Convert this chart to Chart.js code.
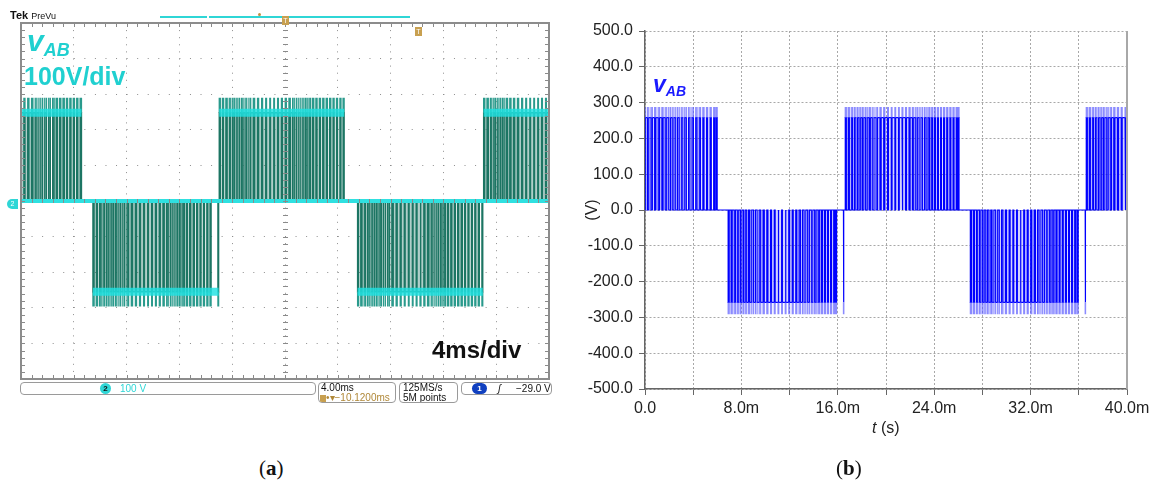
<!DOCTYPE html>
<html>
<head>
<meta charset="utf-8">
<script src="https://cdn.jsdelivr.net/npm/chart.js@4.4.1/dist/chart.umd.min.js"></script>
<style>
  body { margin: 0; background: #fff; width: 1156px; height: 486px; position: relative; overflow: hidden; font-family: 'Liberation Sans', Arial, sans-serif; }
  .abs { position: absolute; white-space: nowrap; }
  .sbox { position: absolute; border: 1px solid #9a9a9a; border-radius: 4px; background: #fff; font-size: 10px; line-height: 10px; color: #111; white-space: nowrap; overflow: hidden; }
</style>
</head>
<body>
<canvas id="scope" width="570" height="410" class="abs" style="left:0;top:0"></canvas>
<canvas id="sim" width="596" height="450" class="abs" style="left:560px;top:0"></canvas>

<!-- scope header -->
<div class="abs" style="left:10px;top:9px;font-size:11px;color:#111"><b>Tek</b> <span style="font-size:9px">PreVu</span></div>
<div class="abs" style="left:160px;top:16px;width:47px;height:2px;background:#2fd6d6"></div>
<div class="abs" style="left:209px;top:16px;width:201px;height:2px;background:#2fd6d6"></div>
<div class="abs" style="left:258px;top:13px;width:3px;height:3px;background:#c09040;border-radius:2px"></div>
<div class="abs" style="left:282px;top:16px;width:7px;height:9px;background:#c8a050;color:#fff;font-size:7px;line-height:9px;text-align:center">T</div>
<div class="abs" style="left:415px;top:27px;width:7px;height:9px;background:#c8a050;color:#fff;font-size:7px;line-height:9px;text-align:center">T</div>
<div class="abs" style="left:7px;top:199px;width:11px;height:10px;background:#2fd6d6;border-radius:5px 0 0 5px;color:#fff;font-size:7px;line-height:10px;text-align:center">2</div>

<!-- scope labels -->
<div class="abs" style="left:27px;top:24px;color:#20d0d0;font-weight:bold;font-style:italic;font-size:30px">v<span style="font-size:18px;position:relative;top:5px">AB</span></div>
<div class="abs" style="left:24px;top:62px;color:#20d0d0;font-weight:bold;font-size:25px">100V/div</div>
<div class="abs" style="left:432px;top:336px;color:#111;font-weight:bold;font-size:24px">4ms/div</div>

<!-- scope status bar -->
<div class="sbox" style="left:20px;top:382px;width:294px;height:11px">
  <span class="abs" style="left:79px;top:0px;width:11px;height:11px;border-radius:6px;background:#2fd6d6;color:#111;font-size:8px;line-height:11px;text-align:center;font-weight:bold">2</span>
  <span class="abs" style="left:99px;top:1px;color:#2fd6d6">100 V</span>
</div>
<div class="sbox" style="left:318px;top:382px;width:76px;height:19px">
  <div style="padding:0 0 0 2px">4.00ms</div>
  <div style="padding:0 0 0 1px;color:#b08838"><span style="display:inline-block;width:6px;height:7px;background:#c8a050;vertical-align:-1px"></span>&#8226;&#9662;&minus;10.1200ms</div>
</div>
<div class="sbox" style="left:399px;top:382px;width:57px;height:19px">
  <div style="padding-left:3px">125MS/s</div>
  <div style="padding-left:3px">5M points</div>
</div>
<div class="sbox" style="left:461px;top:382px;width:89px;height:11px">
  <span class="abs" style="left:10px;top:0px;width:15px;height:11px;border-radius:6px;background:#1040c0;color:#fff;font-size:8px;line-height:11px;text-align:center;font-weight:bold">1</span>
  <span class="abs" style="left:36px;top:1px;font-style:italic">&#x0283;</span>
  <span class="abs" style="left:54px;top:1px">&minus;29.0 V</span>
</div>

<!-- sim labels -->
<div class="abs" style="left:653px;top:71px;color:#1a1aff;font-weight:bold;font-style:italic;font-size:23px">v<span style="font-size:14px;position:relative;top:4px">AB</span></div>
<div class="abs" style="left:872px;top:419px;color:#222;font-size:16px"><i>t</i> (s)</div>

<!-- captions -->
<div class="abs" style="left:259px;top:456px;font-family:'Liberation Serif',serif;font-size:21px;color:#111">(<b>a</b>)</div>
<div class="abs" style="left:836px;top:456px;font-family:'Liberation Serif',serif;font-size:21px;color:#111">(<b>b</b>)</div>

<script>
// time in ms, voltage in V; each block = [rise, fall, rise, fall, ...]
const scopeP1 = [0.00,0.22, 0.30,0.51, 0.60,0.80, 0.90,1.08, 1.20,1.36, 1.50,1.64, 1.80,1.93, 2.10,2.22, 2.40,2.51, 2.66,2.76, 2.92,3.02, 3.18,3.28, 3.44,3.53, 3.70,3.79, 3.96,4.05, 4.22,4.31, 4.48,4.58];
const scopeN1 = [5.45,5.54, 5.70,5.80, 5.96,6.07, 6.22,6.34, 6.48,6.61, 6.74,6.88, 7.00,7.15, 7.26,7.42, 7.55,7.72, 7.85,8.04, 8.15,8.36, 8.45,8.67, 8.75,8.98, 9.05,9.29, 9.35,9.60, 9.65,9.90, 9.95,10.19, 10.25,10.48, 10.55,10.76, 10.85,11.04, 11.15,11.32, 11.45,11.60, 11.74,11.87, 12.00,12.12, 12.26,12.37, 12.52,12.62, 12.78,12.87, 13.04,13.13, 13.30,13.39, 13.56,13.64, 13.82,13.90, 14.08,14.16, 14.32,14.40, 14.92,14.97];
const scopeP2 = [15.02,15.10, 15.26,15.35, 15.52,15.62, 15.78,15.89, 16.04,16.16, 16.30,16.43, 16.56,16.71, 16.82,16.98, 17.10,17.27, 17.40,17.60, 17.70,17.92, 18.00,18.23, 18.30,18.54, 18.60,18.85, 18.90,19.15, 19.20,19.44, 19.50,19.73, 19.80,20.02, 20.10,20.30, 20.40,20.58, 20.70,20.86, 21.00,21.15, 21.30,21.43, 21.56,21.68, 21.82,21.93, 22.08,22.18, 22.34,22.43, 22.60,22.69, 22.86,22.95, 23.12,23.21, 23.38,23.47, 23.64,23.72, 23.90,23.98, 24.16,24.24, 24.40,24.48];
const scopeN2 = [25.50,25.58, 25.74,25.84, 26.00,26.11, 26.26,26.38, 26.52,26.65, 26.78,26.92, 27.04,27.19, 27.30,27.46, 27.60,27.78, 27.90,28.10, 28.20,28.42, 28.50,28.73, 28.80,29.04, 29.10,29.35, 29.40,29.65, 29.70,29.94, 30.00,30.23, 30.30,30.52, 30.60,30.80, 30.90,31.08, 31.20,31.36, 31.50,31.64, 31.78,31.90, 32.04,32.15, 32.30,32.40, 32.56,32.65, 32.82,32.91, 33.08,33.17, 33.34,33.43, 33.60,33.68, 33.86,33.94, 34.12,34.20, 34.38,34.46, 34.64,34.72, 34.92,34.98];
const scopeP3 = [35.05,35.14, 35.30,35.40, 35.56,35.67, 35.82,35.94, 36.08,36.21, 36.34,36.48, 36.60,36.76, 36.86,37.03, 37.12,37.31, 37.40,37.61, 37.70,37.93, 38.00,38.24, 38.30,38.55, 38.60,38.85, 38.90,39.15, 39.20,39.44, 39.50,39.74, 39.80,40.00];
const scopeBand = [248, -255, 248, -255, 248];
const scopePeak = [290, -296, 290, -296, 290];

const simP1 = [0.02,0.20, 0.31,0.50, 0.61,0.80, 0.90,1.10, 1.21,1.40, 1.50,1.68, 1.80,1.97, 2.11,2.26, 2.40,2.55, 2.70,2.84, 3.01,3.14, 3.30,3.43, 3.61,3.73, 3.90,4.02, 4.21,4.32, 4.50,4.61, 4.80,4.90, 5.10,5.20, 5.40,5.50, 5.70,5.79, 5.90,5.99];
const simN1 = [6.90,6.99, 7.14,7.24, 7.40,7.51, 7.66,7.78, 7.92,8.05, 8.18,8.32, 8.44,8.60, 8.70,8.86, 9.00,9.16, 9.30,9.48, 9.60,9.80, 9.90,10.11, 10.20,10.42, 10.50,10.73, 10.80,11.04, 11.10,11.34, 11.40,11.64, 11.70,11.93, 12.00,12.22, 12.30,12.51, 12.60,12.79, 12.90,13.07, 13.20,13.35, 13.50,13.64, 13.80,13.93, 14.08,14.20, 14.36,14.47, 14.62,14.72, 14.88,14.98, 15.14,15.23, 15.40,15.49, 15.66,15.74, 15.82,15.90, 16.47,16.50];
const simP2 = [16.62,16.71, 16.86,16.96, 17.12,17.23, 17.38,17.50, 17.64,17.77, 17.90,18.04, 18.16,18.31, 18.44,18.60, 18.70,18.86, 19.00,19.18, 19.30,19.50, 19.60,19.81, 19.90,20.13, 20.20,20.44, 20.50,20.74, 20.80,21.04, 21.10,21.33, 21.40,21.62, 21.70,21.91, 22.00,22.19, 22.30,22.47, 22.60,22.75, 22.90,23.04, 23.20,23.33, 23.48,23.60, 23.74,23.85, 24.00,24.10, 24.26,24.35, 24.52,24.61, 24.78,24.87, 25.04,25.13, 25.30,25.39, 25.56,25.65, 25.82,25.90, 25.98,26.06];
const simN2 = [27.00,27.09, 27.24,27.34, 27.50,27.61, 27.76,27.88, 28.02,28.15, 28.28,28.42, 28.54,28.70, 28.80,28.96, 29.10,29.27, 29.40,29.59, 29.70,29.91, 30.00,30.22, 30.30,30.53, 30.60,30.84, 30.90,31.14, 31.20,31.43, 31.50,31.72, 31.80,32.01, 32.10,32.30, 32.40,32.58, 32.70,32.86, 33.00,33.15, 33.30,33.43, 33.58,33.70, 33.84,33.95, 34.10,34.20, 34.36,34.45, 34.62,34.71, 34.88,34.97, 35.14,35.23, 35.40,35.49, 35.66,35.74, 35.86,35.95, 36.53,36.56];
const simP3 = [36.62,36.71, 36.86,36.96, 37.12,37.23, 37.38,37.50, 37.64,37.77, 37.90,38.04, 38.16,38.32, 38.44,38.61, 38.72,38.90, 39.00,39.20, 39.30,39.52, 39.60,39.84, 39.90,40.00];
const simBand = [258, -258, 258, -258, 258];
const simPeak = [288, -291, 288, -291, 288];

const simXTickVals = [0, 8, 16, 24, 32, 40];
const simXTickText = ['0.0', '8.0m', '16.0m', '24.0m', '32.0m', '40.0m'];

// switching pulses: 0 -> band -> 0
function basePoints(blocks, bands) {
  const pts = [{x: 0, y: 0}];
  blocks.forEach((edges, b) => {
    for (let i = 0; i < edges.length; i += 2) {
      pts.push({x: edges[i], y: 0}, {x: edges[i], y: bands[b]}, {x: edges[i + 1], y: bands[b]}, {x: edges[i + 1], y: 0});
    }
  });
  pts.push({x: 40, y: 0});
  return pts;
}

// overshoot at every edge: band -> peak
function tipPoints(blocks, peaks, bands) {
  const pts = [];
  blocks.forEach((edges, b) => {
    edges.forEach(t => pts.push({x: t, y: bands[b]}, {x: t, y: peaks[b]}, {x: t, y: null}));
  });
  return pts;
}

function bandPoints(blocks, bands) {
  const pts = [];
  blocks.forEach((edges, b) => {
    const last = edges[edges.length - 1];
    pts.push({x: edges[0], y: bands[b]}, {x: last, y: bands[b]}, {x: last, y: null});
  });
  return pts;
}

Chart.defaults.font.family = "'Liberation Sans', Arial, sans-serif";

// SCOPE
const scopeBlocks = [scopeP1, scopeN1, scopeP2, scopeN2, scopeP3];

const scopeFrame = {
  id: 'scopeFrame',
  afterDraw(chart) {
    const {ctx, chartArea: a, scales: {x, y}} = chart;
    const cx = x.getPixelForValue(20), cy = y.getPixelForValue(0);
    ctx.save();
    ctx.strokeStyle = '#8a8a8a';
    ctx.lineWidth = 1;
    ctx.beginPath();
    for (let v = 0; v <= 40.001; v += 0.8) {
      const px = Math.round(x.getPixelForValue(v)) + 0.5;
      ctx.moveTo(px, a.top); ctx.lineTo(px, a.top + 4);
      ctx.moveTo(px, a.bottom); ctx.lineTo(px, a.bottom - 4);
      ctx.moveTo(px, cy - 2); ctx.lineTo(px, cy + 2);
    }
    for (let v = -500; v <= 500; v += 20) {
      const py = Math.round(y.getPixelForValue(v)) + 0.5;
      ctx.moveTo(a.left, py); ctx.lineTo(a.left + 4, py);
      ctx.moveTo(a.right, py); ctx.lineTo(a.right - 4, py);
      ctx.moveTo(cx - 2, py); ctx.lineTo(cx + 3, py);
    }
    ctx.stroke();
    ctx.lineWidth = 2;
    ctx.strokeStyle = '#8c8c8c';
    ctx.strokeRect(a.left, a.top, a.right - a.left, a.bottom - a.top);
    ctx.restore();
  }
};

new Chart(document.getElementById('scope'), {
  type: 'line',
  data: {
    datasets: [
      {
        data: bandPoints(scopeBlocks, scopeBand),
        borderColor: 'rgba(30,226,226,0.82)',
        borderWidth: 8,
        pointRadius: 0,
        spanGaps: false
      },
      {
        data: [{x: 0, y: 0}, {x: 40, y: 0}],
        borderColor: '#2fe0e0',
        borderWidth: 4,
        pointRadius: 0
      },
      {
        data: tipPoints(scopeBlocks, scopePeak, scopeBand),
        borderColor: '#2a9a8c',
        borderWidth: 1.3,
        pointRadius: 0,
        spanGaps: false
      },
      {
        data: basePoints(scopeBlocks, scopeBand),
        borderColor: '#1c7563',
        backgroundColor: 'rgba(28,117,99,0.35)',
        fill: 'origin',
        borderWidth: 1.4,
        pointRadius: 0
      }
    ]
  },
  options: {
    responsive: false,
    animation: false,
    events: [],
    layout: { padding: { left: 21, top: 23, right: 21, bottom: 31 } },
    plugins: { legend: { display: false }, tooltip: { enabled: false } },
    scales: {
      x: {
        type: 'linear', min: 0, max: 40,
        ticks: { display: false, stepSize: 4 },
        border: { display: false, dash: [1, 6.1] },
        grid: { color: '#8e8e8e', drawTicks: false }
      },
      y: {
        min: -500, max: 500,
        ticks: { display: false, stepSize: 100 },
        border: { display: false, dash: [1, 9.56] },
        grid: { color: '#8e8e8e', drawTicks: false }
      }
    }
  },
  plugins: [scopeFrame]
});

// SIMULATION
const simBlocks = [simP1, simN1, simP2, simN2, simP3];

const rightEdge = {
  id: 'rightEdge',
  afterDraw(chart) {
    const {ctx, chartArea: a} = chart;
    ctx.save();
    ctx.strokeStyle = '#a8a8a8';
    ctx.lineWidth = 2;
    ctx.beginPath();
    ctx.moveTo(a.right, a.top);
    ctx.lineTo(a.right, a.bottom);
    ctx.stroke();
    ctx.restore();
  }
};

new Chart(document.getElementById('sim'), {
  type: 'line',
  data: {
    datasets: [
      {
        data: tipPoints(simBlocks, simPeak, simBand),
        borderColor: 'rgba(90,90,255,0.7)',
        borderWidth: 1.2,
        pointRadius: 0,
        spanGaps: false
      },
      {
        data: basePoints(simBlocks, simBand),
        borderColor: '#0000ff',
        backgroundColor: 'rgba(70,70,255,0.25)',
        fill: 'origin',
        borderWidth: 1.2,
        pointRadius: 0
      }
    ]
  },
  options: {
    responsive: false,
    animation: false,
    events: [],
    layout: { padding: { left: 0, top: 31, right: 29, bottom: 0 } },
    plugins: { legend: { display: false }, tooltip: { enabled: false } },
    scales: {
      x: {
        type: 'linear', min: 0, max: 40,
        afterFit: s => { s.height = 61; },
        ticks: {
          stepSize: 4, autoSkip: false, maxRotation: 0, padding: 4,
          color: '#222', font: { size: 16 },
          callback: v => {
            const i = simXTickVals.indexOf(v);
            return i >= 0 ? simXTickText[i] : '';
          }
        },
        border: { color: '#666', width: 1.5, dash: [2, 2] },
        grid: { color: '#a8a8a8', tickLength: 6, tickColor: '#666', tickBorderDash: [] }
      },
      y: {
        min: -500, max: 500,
        afterFit: s => { s.width = 85; },
        ticks: {
          stepSize: 100, padding: 6, color: '#222', font: { size: 16 },
          callback: v => v.toFixed(1)
        },
        title: { display: true, text: '(V)', color: '#222', font: { size: 16 }, padding: { top: 23 } },
        border: { color: '#666', width: 1.5, dash: [2, 2] },
        grid: { color: '#a8a8a8', tickLength: 6, tickColor: '#666', tickBorderDash: [] }
      }
    }
  },
  plugins: [rightEdge]
});
</script>
</body>
</html>
